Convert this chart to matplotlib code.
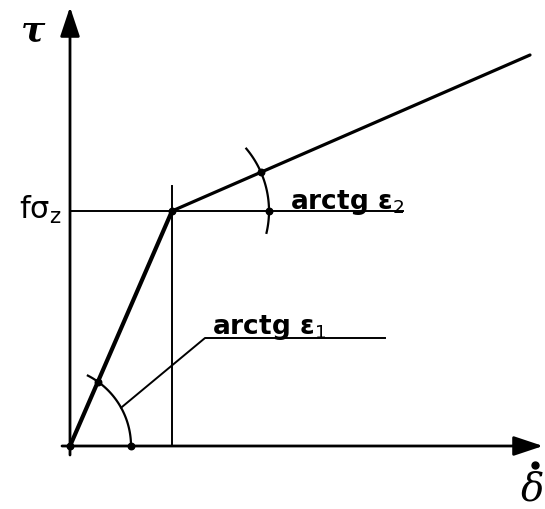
import numpy as np
import matplotlib.pyplot as plt

# bilinear tau - delta_dot law (units: arbitrary, origin at axes crossing)
curve_x = [0, 102, 460]
curve_y = [0, 235, 391]
kink_x, kink_y = curve_x[1], curve_y[1]

# axis extents
x_axis = [-8, 473]
y_axis = [-9, 439]

# construction lines
hline_end = 333      # horizontal line f*sigma_z ends here
vline_top = 260      # vertical line through kink ends here

# angle arcs: (centre x, centre y, radius, start deg, end deg)
arc1 = (-18, 0, 79, 0, 63)
arc2 = (kink_x, kink_y, 97, -13, 40)

# leader for arctg eps1
leader_angle = 29
leader_x = [135, 315]
leader_y = 108

labels = {'tau': 'τ', 'fsz': 'fσ$_{\\mathregular{z}}$',
          'e1': 'arctg ε$_1$', 'e2': 'arctg ε$_2$'}

fig = plt.figure(figsize=(5.45, 5.09), dpi=100)
ax = fig.add_axes([0, 0, 1, 1])
ax.set_xlim(-70, 475)
ax.set_ylim(-63, 446)
ax.axis('off')

k = 'black'
# axes with arrows
arr = dict(arrowstyle='-|>,head_length=0.9,head_width=0.3', color=k, lw=2.0,
           mutation_scale=20, shrinkA=0, shrinkB=0)
ax.annotate('', xy=(x_axis[1], 0), xytext=(x_axis[0], 0), arrowprops=arr)
ax.annotate('', xy=(0, y_axis[1]), xytext=(0, y_axis[0]), arrowprops=arr)

# construction lines
ax.plot([0, hline_end], [kink_y, kink_y], color=k, lw=1.4)
ax.plot([kink_x, kink_x], [0, vline_top], color=k, lw=1.4)

# main curve
ax.plot(curve_x[:2], curve_y[:2], color=k, lw=3.0, solid_capstyle='round')
ax.plot(curve_x[1:], curve_y[1:], color=k, lw=2.3, solid_capstyle='round')

# arcs
for cx, cy, r, a0, a1 in (arc1, arc2):
    t = np.radians(np.linspace(a0, a1, 80))
    ax.plot(cx + r * np.cos(t), cy + r * np.sin(t), color=k, lw=1.6)

# dots where arcs cut the lines
dots = []
cx, cy, r = arc1[:3]
d = np.array([curve_x[1], curve_y[1]], float)
a = d @ d
b = 2 * (d[0] * (0 - cx) + d[1] * (0 - cy))
c = cx ** 2 + cy ** 2 - r ** 2
t1 = (-b + np.sqrt(b * b - 4 * a * c)) / (2 * a)
dots.append(t1 * d)
dots.append((cx + r, cy))
cx, cy, r = arc2[:3]
u = np.array([curve_x[2] - kink_x, curve_y[2] - kink_y], float)
u /= np.hypot(*u)
dots.append((cx + r * u[0], cy + r * u[1]))
dots.append((cx + r, cy))
dots.append((kink_x, kink_y))
dots.append((0, 0))
dots = np.array(dots)
ax.scatter(dots[:, 0], dots[:, 1], s=22, color=k, zorder=5)

# leader line for arctg eps1
cx, cy, r = arc1[:3]
lx = cx + r * np.cos(np.radians(leader_angle))
ly = cy + r * np.sin(np.radians(leader_angle))
ax.plot([lx, leader_x[0], leader_x[1]], [ly, leader_y, leader_y], color=k, lw=1.4)

# labels
ax.text(-37, 416, labels['tau'], fontsize=26, family='DejaVu Serif',
        style='italic', weight='bold', ha='center', va='center')
ax.text(-30, 236, labels['fsz'], fontsize=22, family='DejaVu Sans',
        ha='center', va='center')
ax.text(142, 112, labels['e1'], fontsize=19, family='DejaVu Sans',
        weight='bold', ha='left', va='baseline')
ax.text(220, 237, labels['e2'], fontsize=19, family='DejaVu Sans',
        weight='bold', ha='left', va='baseline')
ax.text(463, -44, 'δ', fontsize=28, family='DejaVu Serif', style='italic',
        ha='center', va='center')
ax.plot([465], [-19], 'o', color=k, ms=5)

fig.savefig('out.png', dpi=100)
